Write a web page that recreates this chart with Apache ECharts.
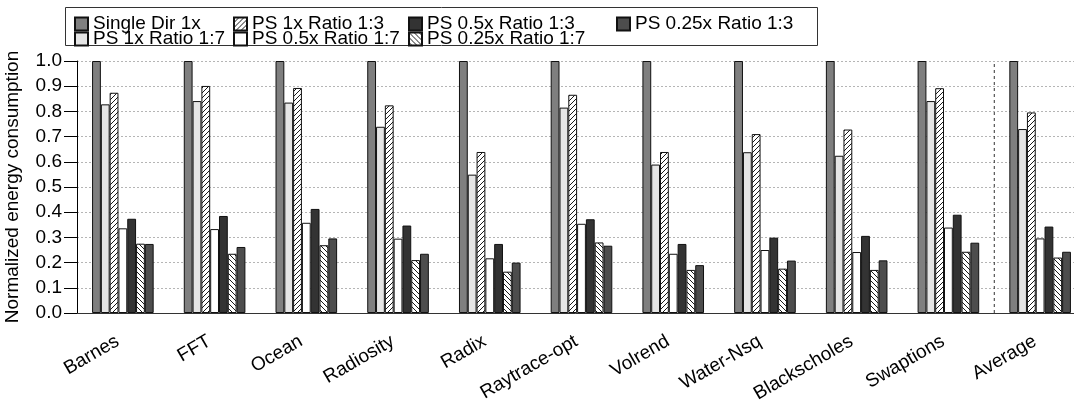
<!DOCTYPE html>
<html>
<head>
<meta charset="utf-8">
<script src="https://cdn.jsdelivr.net/npm/echarts@6/dist/echarts.min.js"></script>
<style>
  html, body { margin: 0; padding: 0; background: #fff; }
  #chart { width: 1074px; height: 402px; }
</style>
</head>
<body>
<div id="chart"></div>
<script>
const categories = ["Barnes", "FFT", "Ocean", "Radiosity", "Radix", "Raytrace-opt", "Volrend", "Water-Nsq", "Blackscholes", "Swaptions", "Average"];
const singleDir1x = [1, 1, 1, 1, 1, 1, 1, 1, 1, 1, 1];
const ps1xRatio17 = [0.828, 0.841, 0.835, 0.739, 0.549, 0.815, 0.589, 0.638, 0.624, 0.841, 0.730];
const ps1xRatio13 = [0.874, 0.901, 0.893, 0.824, 0.639, 0.866, 0.639, 0.710, 0.728, 0.892, 0.796];
const ps05xRatio17 = [0.336, 0.333, 0.358, 0.295, 0.217, 0.354, 0.235, 0.250, 0.242, 0.339, 0.296];
const ps05xRatio13 = [0.374, 0.385, 0.413, 0.347, 0.274, 0.372, 0.274, 0.299, 0.306, 0.390, 0.343];
const ps025xRatio17 = [0.275, 0.235, 0.269, 0.210, 0.164, 0.280, 0.171, 0.176, 0.171, 0.243, 0.220];
const ps025xRatio13 = [0.274, 0.262, 0.296, 0.235, 0.200, 0.267, 0.190, 0.208, 0.209, 0.279, 0.243];
const yTicks = ["0.0", "0.1", "0.2", "0.3", "0.4", "0.5", "0.6", "0.7", "0.8", "0.9", "1.0"];
// dashed separator before the "Average" group (category boundary index)
const separatorAt = [[10, 0], [10, 1]];

const FONT = "'Liberation Sans', Arial, Helvetica, sans-serif";

// small hatch tiles for the striped bars
function hatch(forward) {
  const s = 5;
  const c = document.createElement("canvas");
  c.width = s;
  c.height = s;
  const ctx = c.getContext("2d");
  ctx.fillStyle = "#fff";
  ctx.fillRect(0, 0, s, s);
  ctx.strokeStyle = "#000";
  ctx.lineWidth = 0.9;
  ctx.beginPath();
  if (forward) {
    ctx.moveTo(-1, s + 1); ctx.lineTo(s + 1, -1);
    ctx.moveTo(-1, 1); ctx.lineTo(1, -1);
    ctx.moveTo(s - 1, s + 1); ctx.lineTo(s + 1, s - 1);
  } else {
    ctx.moveTo(-1, -1); ctx.lineTo(s + 1, s + 1);
    ctx.moveTo(s - 1, -1); ctx.lineTo(s + 1, 1);
    ctx.moveTo(-1, s - 1); ctx.lineTo(1, s + 1);
  }
  ctx.stroke();
  return { image: c, repeat: "repeat" };
}

const chart = echarts.init(document.getElementById("chart"));

const bar = (name, data, color) => ({
  name,
  type: "bar",
  data,
  barWidth: 8.8,
  barGap: "0%",
  itemStyle: { color, borderColor: "#111", borderWidth: 1 },
});

const legendBase = {
  orient: "vertical",
  top: 14.5,
  padding: 0,
  itemGap: -4,
  itemWidth: 13,
  itemHeight: 13,
  icon: "rect",
  selectedMode: false,
  textStyle: { fontFamily: FONT, fontSize: 19, color: "#000" },
};

chart.setOption({
  animation: false,
  graphic: [{
    type: "rect",
    shape: { x: 65.5, y: 7.5, width: 752, height: 38 },
    style: { fill: "#fff", stroke: "#333", lineWidth: 1 },
    z: -1,
  }],
  legend: [
    { ...legendBase, left: 74, data: ["Single Dir 1x", "PS 1x Ratio 1:7"] },
    { ...legendBase, left: 233, data: ["PS 1x Ratio 1:3", "PS 0.5x Ratio 1:7"] },
    { ...legendBase, left: 408, data: ["PS 0.5x Ratio 1:3", "PS 0.25x Ratio 1:7"] },
    { ...legendBase, left: 616, data: ["PS 0.25x Ratio 1:3"] },
  ],
  grid: { left: 77, top: 61, width: 1009, height: 252, outerBoundsMode: "none" },
  xAxis: [
    {
      type: "category",
      data: categories,
      axisLine: { lineStyle: { color: "#333", width: 1 } },
      axisTick: { alignWithLabel: true, length: 12, lineStyle: { color: "#000" } },
      axisLabel: {
        rotate: 30,
        margin: 24,
        padding: [0, 6, 0, 0],
        fontFamily: FONT,
        fontSize: 19,
        color: "#000",
      },
    },
    { type: "value", min: 0, max: 11, show: false },
  ],
  yAxis: {
    type: "value",
    min: 0,
    max: 1,
    interval: 0.1,
    name: "Normalized energy consumption",
    nameLocation: "middle",
    nameRotate: 90,
    nameGap: 55,
    nameTextStyle: { fontFamily: FONT, fontSize: 19, color: "#000" },
    axisLine: { show: true, lineStyle: { color: "#000", width: 1 } },
    axisTick: { show: true, length: 13, lineStyle: { color: "#000" } },
    axisLabel: {
      margin: 15,
      fontFamily: FONT,
      fontSize: 19,
      color: "#000",
      formatter: (v) => yTicks[Math.round(v * 10)],
    },
    splitLine: { lineStyle: { color: "#b5b5b5", type: [2, 2], width: 1 } },
  },
  series: [
    bar("Single Dir 1x", singleDir1x, "#7f7f7f"),
    bar("PS 1x Ratio 1:7", ps1xRatio17, "#e5e5e5"),
    bar("PS 1x Ratio 1:3", ps1xRatio13, hatch(true)),
    bar("PS 0.5x Ratio 1:7", ps05xRatio17, "#ffffff"),
    bar("PS 0.5x Ratio 1:3", ps05xRatio13, "#333333"),
    bar("PS 0.25x Ratio 1:7", ps025xRatio17, hatch(false)),
    bar("PS 0.25x Ratio 1:3", ps025xRatio13, "#4d4d4d"),
    {
      name: "separator",
      type: "line",
      xAxisIndex: 1,
      data: separatorAt,
      symbol: "none",
      silent: true,
      lineStyle: { color: "#333", type: [3, 3], width: 1 },
      z: 1,
    },
  ],
});
</script>
</body>
</html>
